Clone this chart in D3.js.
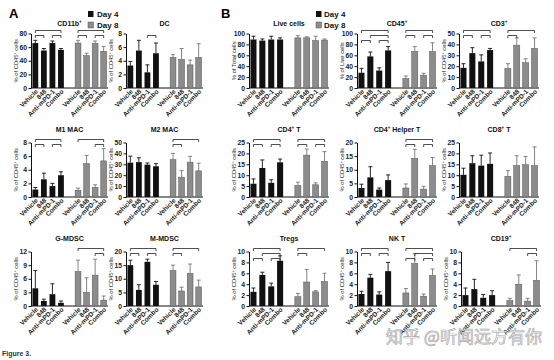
<!DOCTYPE html>
<html><head><meta charset="utf-8">
<script src="https://cdn.jsdelivr.net/npm/d3@7"></script>
<style>body{margin:0;background:#fff} svg{display:block;font-family:"Liberation Sans",Arial,sans-serif}</style>
</head><body><svg id="c" width="554" height="360"></svg>
<script>
// ---------- data ----------
const categories = ["Vehicle", "848", "Anti-mPD-1", "Combo"];
const seriesNames = ["Day 4", "Day 8"];
const panelTitles = ["CD11b^+", "DC", "M1 MAC", "M2 MAC", "G-MDSC", "M-MDSC",
  "Live cells", "CD45^+", "CD3^+", "CD4^+ T", "CD4^+ Helper T", "CD8^+ T", "Tregs", "NK T", "CD19^+"];
const yLabels = ["% of CD45^+ cells", "% of CD45^+ cells", "% of CD45^+ cells", "% of CD45^+ cells", "% of CD45^+ cells", "% of CD45^+ cells",
  "% of Total cells", "% of Live cells", "% of CD45^+ cells", "% of CD45^+ cells", "% of CD45^+ cells", "% of CD45^+ cells",
  "% of CD45^+ cells", "% of CD45^+ cells", "% of CD45^+ cells"];
const yMax = [80, 8, 8, 50, 12, 20, 100, 100, 50, 25, 20, 25, 10, 10, 10];
const yStep = [20, 2, 2, 10, 3, 5, 20, 20, 10, 5, 5, 5, 2, 2, 2];
const day4Mean = [[66,55,66,56],[3.3,5.5,2.3,5.1],[1.1,2.6,1.6,3.2],[31.5,32,29.7,28.2],[3.9,1.1,2.6,0.7],[15,5.9,16.2,7.8],
  [89,87,89,89],[28,58,32,69],[18.5,32,24.4,34.8],[6.1,13.3,6.5,15.9],[3.3,7.2,2.7,6.2],[10.2,15.5,14.4,15.2],
  [2.6,5.7,3.6,8.3],[2.2,5.2,2.1,6.4],[2.0,3.1,1.5,2.0]];
const day4Err = [[4,3,3,2],[0.6,1.5,1.1,1.5],[0.3,0.9,0.4,0.5],[6,4,1.5,2.4],[3.9,0.4,2.3,0.4],[1.8,1.9,1.0,1.2],
  [6,3,6,3],[8,8,5,7],[3.8,5,6,1.5],[2.2,3.7,1.4,1.5],[1.4,3.9,0.6,1.9],[3,3.4,4.8,5],
  [0.7,0.5,0.6,0.9],[0.5,0.6,0.5,1.6],[1.3,1.8,0.6,0.8]];
const day8Mean = [[66,47.5,65.5,54],[4.5,4.2,3.4,4.5],[1.0,4.9,1.4,5.3],[34.2,18.2,32,24],[7.6,3.0,6.8,1.3],[13,5.5,12,7],
  [92,92,87,88],[17.4,67,23.6,67],[17.9,39.3,23.2,36.3],[5.3,19.2,5.6,16.4],[3.3,14.2,2.9,11.5],[9.5,14.4,14.8,14.4],
  [1.7,4.4,2.6,4.5],[2.4,7.8,1.8,5.6],[1.0,4.0,0.9,4.7]];
const day8Err = [[4,3.5,3.5,7],[0.4,1.6,0.7,2],[0.3,1.2,0.4,1.8],[5.8,6,5.3,7],[2.5,3.2,3.5,0.9],[2,1.4,3.4,2.5],
  [4,2,8,2],[4.6,9,3.4,16],[4.4,6.7,3.6,9.7],[1.5,2.8,0.9,4.4],[1.5,3.3,1,3],[2.6,4.5,3.8,8.6],
  [0.6,2.3,0.2,1.5],[0.8,1.8,0.4,1.2],[0.4,1.7,0.5,3.6]];
// significance brackets: [series, fromIndex, toIndex, row (0 = topmost)]
const brackets = [
  [[0,0,3,0],[0,0,1,1],[0,2,3,1],[1,0,3,0],[1,0,1,1],[1,2,3,1]],
  [[0,2,3,1]],
  [[0,0,3,0],[0,0,1,1],[0,2,3,1],[1,0,3,0],[1,2,3,1]],
  [[1,0,3,0],[1,0,1,1]],
  [[1,0,3,0],[1,2,3,1]],
  [[0,0,3,0],[0,0,1,1],[0,2,3,1],[1,0,3,0],[1,0,1,1]],
  [],
  [[0,0,3,0],[0,1,3,1],[0,0,1,2],[0,2,3,2],[1,0,3,0],[1,0,1,1],[1,2,3,1]],
  [[0,0,3,0],[0,0,1,1],[0,2,3,1],[1,0,3,0],[1,0,1,1]],
  [[0,0,3,0],[0,0,1,1],[0,2,3,1],[1,0,3,0],[1,0,1,1],[1,2,3,1]],
  [[1,0,3,0],[1,0,1,1],[1,2,3,1]],
  [],
  [[0,0,3,0],[0,1,3,1],[0,0,1,2],[0,2,3,2],[1,0,3,0],[1,0,1,1]],
  [[0,0,3,0],[0,0,1,1],[0,2,3,1],[1,0,3,0],[1,1,3,1],[1,0,1,2],[1,2,3,2]],
  [[1,0,3,0],[1,2,3,1]]
];

// ---------- layout ----------
const panelX = [31,126,31,126,31,126, 249,357,459, 249,357,459, 249,357,461];
const panelRow = [0,0,1,1,2,2, 0,0,0, 1,1,1, 2,2,2];
const rowTop = [33.5, 142.5, 251.5];
const titleY = [25.5, 131.5, 240.5];
const plotH = 54.5;
const col4 = "#111", col8 = "#8c8c8c", err8 = "#777";

const svg = d3.select("#c");

function rich(sel, str, fs) {
  const parts = str.split("^+");
  parts.forEach((p, i) => {
    const t = sel.append("tspan").text(p);
    if (i > 0) t.attr("dy", fs * 0.38);
    if (i < parts.length - 1) {
      sel.append("tspan").attr("dy", -fs * 0.38).attr("font-size", fs * 0.65).text("+");
    }
  });
}

const slots = ["d4_0","d4_1","d4_2","d4_3","gap","d8_0","d8_1","d8_2","d8_3"];

panelTitles.forEach((title, p) => {
  const x0 = panelX[p], top = rowTop[panelRow[p]], base = top + plotH;
  const W = p < 6 ? 75 : 78;
  const g = svg.append("g");
  const x = d3.scaleBand().domain(slots).range([x0 + 1, x0 + 1 + W]).paddingInner(0.32).paddingOuter(0.05);
  const y = d3.scaleLinear().domain([0, yMax[p]]).range([base, top]);

  const ax = g.append("g").attr("transform", `translate(${x0},0)`)
    .call(d3.axisLeft(y).tickValues(d3.range(0, yMax[p] + 1e-9, yStep[p])).tickSize(2.5).tickPadding(1.5).tickSizeOuter(0));
  ax.select(".domain").attr("stroke", "#111").attr("stroke-width", 1);
  ax.selectAll(".tick line").attr("stroke", "#111");
  ax.selectAll("text").attr("font-size", 6.8).attr("font-weight", "bold").attr("fill", "#222")
    .attr("font-family", '"Liberation Sans",Arial,sans-serif');
  g.append("line").attr("x1", x0).attr("x2", x0 + W + 2).attr("y1", base).attr("y2", base)
    .attr("stroke", "#111").attr("stroke-width", 1);

  const series = [
    { key: "d4", mean: day4Mean[p], err: day4Err[p], fill: col4, ec: col4 },
    { key: "d8", mean: day8Mean[p], err: day8Err[p], fill: col8, ec: err8 }
  ];
  series.forEach(s => {
    const data = categories.map((c, i) => ({ c, i, v: s.mean[i], e: s.err[i], slot: s.key + "_" + i }));
    data.forEach(d => {
      const cx = x(d.slot) + x.bandwidth() / 2;
      g.append("line").attr("x1", cx).attr("x2", cx).attr("y1", y(d.v)).attr("y2", y(d.v + d.e))
        .attr("stroke", s.ec).attr("stroke-width", 0.9);
      g.append("line").attr("x1", cx - 2).attr("x2", cx + 2).attr("y1", y(d.v + d.e)).attr("y2", y(d.v + d.e))
        .attr("stroke", s.ec).attr("stroke-width", 0.9);
    });
    g.selectAll(null).data(data).enter().append("rect")
      .attr("x", d => x(d.slot)).attr("width", x.bandwidth())
      .attr("y", d => y(d.v)).attr("height", d => base - y(d.v))
      .attr("fill", s.fill).attr("stroke", s.key === "d8" ? "#555" : "none").attr("stroke-width", 0.5);
    g.selectAll(null).data(data).enter().append("text")
      .attr("transform", d => `translate(${x(d.slot) + x.bandwidth() / 2 + 3},${base + 4}) rotate(-45)`)
      .attr("text-anchor", "end").attr("font-size", 6.5).attr("font-weight", "bold").attr("fill", "#222")
      .text(d => d.c);
  });

  brackets[p].forEach(([s, i, j, r]) => {
    const key = s === 0 ? "d4_" : "d8_";
    const xa = x(key + i) + x.bandwidth() / 2, xb = x(key + j) + x.bandwidth() / 2;
    const by = top - 3 + r * 5;
    g.append("path").attr("d", `M${xa},${by + 2.5}V${by}H${xb}V${by + 2.5}`)
      .attr("fill", "none").attr("stroke", "#222").attr("stroke-width", 0.8);
  });

  const t = g.append("text").attr("x", x0 + 1 + W / 2).attr("y", titleY[panelRow[p]])
    .attr("text-anchor", "middle").attr("font-size", 7).attr("font-weight", "bold").attr("fill", "#111");
  rich(t, title, 7);
  const yl = g.append("text").attr("transform", `translate(${x0 - 13},${(top + base) / 2}) rotate(-90)`)
    .attr("text-anchor", "middle").attr("font-size", 5.8).attr("fill", "#222");
  rich(yl, yLabels[p], 5.8);
});

svg.append("text").attr("x", 9).attr("y", 18).attr("font-size", 13).attr("font-weight", "bold").text("A");
svg.append("text").attr("x", 221).attr("y", 18).attr("font-size", 13).attr("font-weight", "bold").text("B");

[[88, 97], [316, 324]].forEach(([sx, tx]) => {
  seriesNames.forEach((n, i) => {
    svg.append("rect").attr("x", sx).attr("y", 11 + i * 11).attr("width", 5.5).attr("height", 6)
      .attr("fill", i === 0 ? col4 : col8).attr("stroke", i === 0 ? "none" : "#555").attr("stroke-width", 0.5);
    svg.append("text").attr("x", tx).attr("y", 17 + i * 11).attr("font-size", 8).attr("font-weight", "bold")
      .attr("fill", "#111").text(n);
  });
});

svg.append("text").attr("x", 2).attr("y", 356).attr("font-size", 7).attr("font-weight", "bold").attr("fill", "#333").text("Figure 3.");

svg.append("text").attr("x", 386).attr("y", 343).attr("font-size", 17)
  .attr("font-family", '"Noto Sans CJK SC",sans-serif')
  .attr("fill", "#fff").attr("fill-opacity", 0.7).attr("stroke", "#aaa").attr("stroke-width", 0.7)
  .text("知乎 @听闻远方有你");
</script></body></html>
